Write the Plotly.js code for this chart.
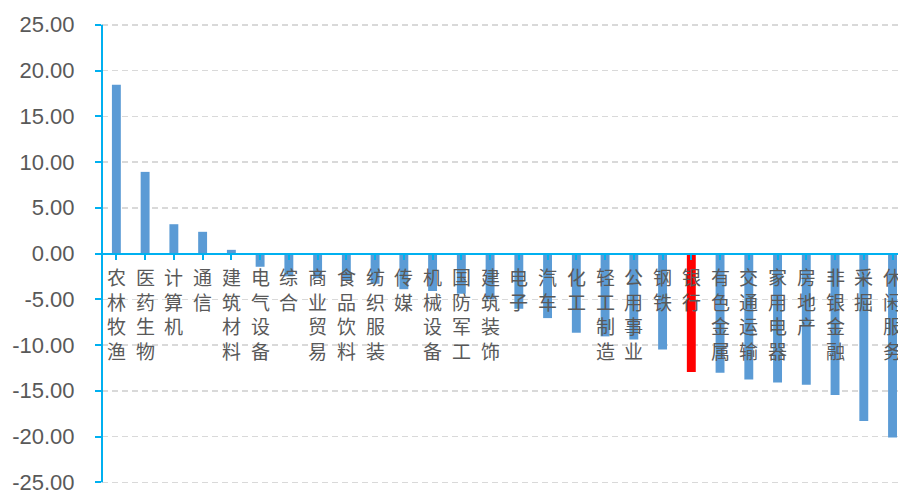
<!DOCTYPE html>
<html>
<head>
<meta charset="utf-8">
<script src="https://cdn.plot.ly/plotly-3.0.1.min.js"></script>
<style>
  html, body { margin: 0; padding: 0; background: #ffffff; }
  #chart { width: 898px; height: 490px; }
</style>
</head>
<body>
<div id="chart"></div>
<script>
// 申万一级行业涨跌幅（%）
const industries = ['农林牧渔', '医药生物', '计算机', '通信', '建筑材料', '电气设备', '综合',
  '商业贸易', '食品饮料', '纺织服装', '传媒', '机械设备', '国防军工', '建筑装饰', '电子',
  '汽车', '化工', '轻工制造', '公用事业', '钢铁', '银行', '有色金属', '交通运输', '家用电器',
  '房地产', '非银金融', '采掘', '休闲服务'];
const changes = [18.45, 8.92, 3.2, 2.37, 0.4, -1.45, -2.5,
  -2.7, -3.0, -3.3, -3.9, -4.1, -4.4, -5.0, -6.04,
  -7.06, -8.66, -9.06, -9.4, -10.48, -12.96, -13.03, -13.76, -14.1,
  -14.34, -15.47, -18.3, -20.1];
const highlight = '银行';
const yTickVals = [25, 20, 15, 10, 5, 0, -5, -10, -15, -20, -25];
const yTickText = ['25.00', '20.00', '15.00', '10.00', '5.00', '0.00', '-5.00', '-10.00', '-15.00', '-20.00', '-25.00'];

const blue = '#5B9BD5';
const red = '#FF0000';
const cyan = '#00B0F0';
const textGray = '#595959';

const barColors = industries.map(n => n === highlight ? red : blue);

const trace = {
  type: 'bar',
  x: industries.map((_, i) => i),
  y: changes,
  marker: { color: barColors, line: { width: 0 } },
  hoverinfo: 'skip'
};

// category names are stacked vertically, one character per line, just under the zero line
const labels = industries.map((name, i) => ({
  x: i, y: 0, xref: 'x', yref: 'y',
  text: Array.from(name).join('<br>'),
  showarrow: false,
  xanchor: 'center', yanchor: 'top',
  yshift: -7,
  font: { family: 'Noto Sans CJK SC, sans-serif', size: 19, color: textGray }
}));

// the value axis line spans exactly from -25 to 25
const axisLine = {
  type: 'line', xref: 'paper', yref: 'y',
  x0: 0, x1: 0, y0: yTickVals[yTickVals.length - 1], y1: yTickVals[0],
  line: { color: cyan, width: 2 }
};

const layout = {
  width: 898, height: 490,
  margin: { l: 102, r: 0, t: 22, b: 5 },
  paper_bgcolor: '#ffffff', plot_bgcolor: '#ffffff',
  showlegend: false,
  bargap: 0.69,
  xaxis: {
    range: [-0.5, 27.19],
    anchor: 'free', position: 0.5,
    showline: true, linecolor: cyan, linewidth: 2,
    ticks: 'outside', ticklen: 5, tickwidth: 2, tickcolor: cyan,
    tickmode: 'array', tickvals: industries.map((_, i) => i),
    tickson: 'boundaries',
    showticklabels: false,
    showgrid: false, zeroline: false,
    fixedrange: true
  },
  yaxis: {
    range: [-25.3, 25.3],
    tickmode: 'array', tickvals: yTickVals, ticktext: yTickText,
    showline: false,
    ticks: 'outside', ticklen: 6, tickwidth: 2, tickcolor: cyan,
    ticklabelstandoff: 16,
    ticklabeloverflow: 'allow',
    tickfont: { family: 'Liberation Sans, Arial, sans-serif', size: 22, color: textGray },
    showgrid: true, gridcolor: '#D9D9D9', gridwidth: 1.5, griddash: '6px,4px',
    zeroline: false,
    fixedrange: true
  },
  shapes: [axisLine],
  annotations: labels
};

Plotly.newPlot('chart', [trace], layout, { displayModeBar: false, staticPlot: true });
</script>
</body>
</html>
